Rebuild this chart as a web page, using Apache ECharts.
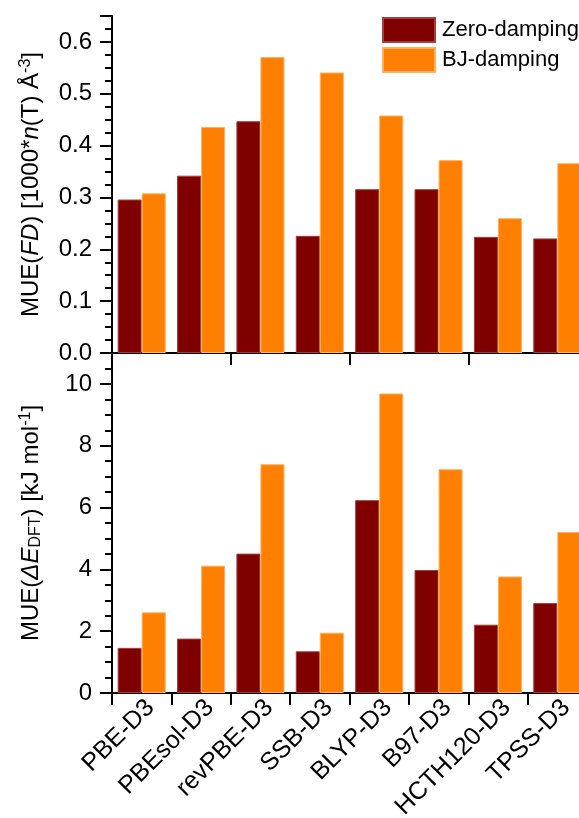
<!DOCTYPE html>
<html>
<head>
<meta charset="utf-8">
<script src="https://cdn.jsdelivr.net/npm/echarts@6/dist/echarts.min.js"></script>
<style>
  html, body { margin: 0; padding: 0; background: #fff; }
  #chart { width: 579px; height: 818px; }
</style>
</head>
<body>
<div id="chart"></div>
<script>
// Functionals compared
const categories = ['PBE-D3', 'PBEsol-D3', 'revPBE-D3', 'SSB-D3', 'BLYP-D3', 'B97-D3', 'HCTH120-D3', 'TPSS-D3'];
const seriesNames = ['Zero-damping', 'BJ-damping'];

// MUE of FD [1000*n(T) Å^-3]
const fdZero = [0.296, 0.342, 0.447, 0.226, 0.316, 0.316, 0.224, 0.221];
const fdBJ   = [0.308, 0.436, 0.571, 0.541, 0.458, 0.372, 0.260, 0.366];

// MUE of ΔE_DFT [kJ mol^-1]
const dEZero = [1.46, 1.76, 4.51, 1.35, 6.24, 3.98, 2.21, 2.91];
const dEBJ   = [2.61, 4.12, 7.40, 1.95, 9.69, 7.24, 3.77, 5.21];

const FONT = "'Liberation Sans', Arial, sans-serif";
const FS = 24;
const colors = ['#800000', '#ff8000'];
const edges = ['#a04040', '#ffb060'];

const chart = echarts.init(document.getElementById('chart'), null, { renderer: 'canvas' });

const axisLine = { show: true, onZero: false, lineStyle: { color: '#000', width: 2 } };

function catAxis(gridIndex, showLabels) {
  return {
    type: 'category',
    gridIndex: gridIndex,
    data: categories,
    boundaryGap: true,
    axisLine: axisLine,
    axisTick: { show: true, inside: false, length: 12, alignWithLabel: false, lineStyle: { color: '#000', width: 2 } },
    axisLabel: showLabels ? {
      show: true, rotate: 45, interval: 0, margin: 2,
      verticalAlign: 'top',
      fontFamily: FONT, fontSize: 25, color: '#000'
    } : { show: false },
    splitLine: { show: false }
  };
}

function valAxis(gridIndex, max, interval, decimals, name, namePad) {
  return {
    type: 'value',
    gridIndex: gridIndex,
    min: 0, max: max, interval: interval,
    axisLine: axisLine,
    axisTick: { show: true, inside: false, length: 12, lineStyle: { color: '#000', width: 2 } },
    minorTick: { show: true, splitNumber: 4, length: 7, lineStyle: { color: '#000', width: 2 } },
    splitLine: { show: false },
    axisLabel: {
      margin: 20, fontFamily: FONT, fontSize: FS, color: '#000', showMaxLabel: false,
      formatter: v => v.toFixed(decimals)
    },
    name: name,
    nameLocation: 'middle',
    nameRotate: 90,
    nameGap: 68,
    nameTextStyle: { fontFamily: FONT, fontSize: FS, color: '#000', padding: namePad, rich: rich }
  };
}

const base = { fontFamily: FONT, fontSize: FS, color: '#000' };
const rich = {
  r: Object.assign({}, base),
  i: Object.assign({}, base, { fontStyle: 'italic' }),
  sup: Object.assign({}, base, { fontSize: 16, verticalAlign: 'top', padding: [0, 0, 10, 0] }),
  sub: Object.assign({}, base, { fontSize: 16, verticalAlign: 'bottom', padding: [10, 0, 0, 0] })
};

const topName = '{r|MUE(}{i|FD}{r|) [1000*}{i|n}{r|(T) Å}{sup|-3}{r|]}';
const botName = '{r|MUE(}{i|ΔE}{sub|DFT}{r|) [kJ mol}{sup|-1}{r|]}';

const barCommon = { type: 'bar', barGap: '0%', barCategoryGap: '19%' };

function barStyle(k) {
  return { color: colors[k], borderColor: edges[k], borderWidth: 1 };
}

const option = {
  animation: false,
  backgroundColor: '#fff',
  color: colors,
  legend: {
    data: seriesNames,
    orient: 'vertical',
    left: 377, top: 12,
    itemWidth: 52, itemHeight: 24, itemGap: 4,
    icon: 'rect',
    textStyle: { fontFamily: FONT, fontSize: 22, color: '#000', padding: [0, 0, 0, 2] }
  },
  grid: [
    { left: 112, top: 16, width: 475, height: 337, containLabel: false, outerBoundsMode: 'none' },
    { left: 112, top: 353, width: 475, height: 340, containLabel: false, outerBoundsMode: 'none' }
  ],
  xAxis: [catAxis(0, false), catAxis(1, true)],
  yAxis: [
    valAxis(0, 0.65, 0.1, 1, topName, [0, 0, 0, 0]),
    valAxis(1, 11, 2, 0, botName, [0, 0, 0, 0])
  ],
  series: [
    Object.assign({}, barCommon, { name: seriesNames[0], xAxisIndex: 0, yAxisIndex: 0, data: fdZero, itemStyle: barStyle(0) }),
    Object.assign({}, barCommon, { name: seriesNames[1], xAxisIndex: 0, yAxisIndex: 0, data: fdBJ, itemStyle: barStyle(1) }),
    Object.assign({}, barCommon, { name: seriesNames[0], xAxisIndex: 1, yAxisIndex: 1, data: dEZero, itemStyle: barStyle(0) }),
    Object.assign({}, barCommon, { name: seriesNames[1], xAxisIndex: 1, yAxisIndex: 1, data: dEBJ, itemStyle: barStyle(1) })
  ]
};

chart.setOption(option);
</script>
</body>
</html>
